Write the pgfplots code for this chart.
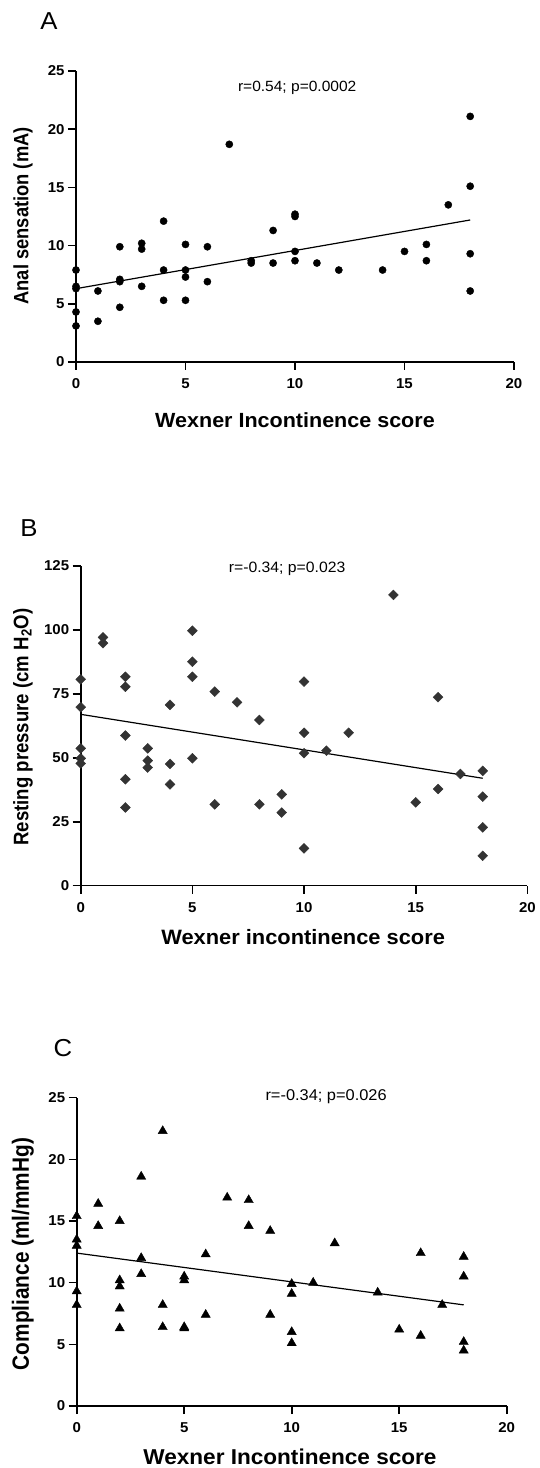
\documentclass[border=0pt]{standalone}
\usepackage{fontspec}
\setmainfont{Liberation Sans}[FakeStretch=1.05]
\newfontfamily\rotfont{Liberation Sans}[FakeStretch=0.885]
\usepackage{pgfplots}
\pgfplotsset{compat=1.18}
\definecolor{diamondgray}{HTML}{333333}

\pgfplotsset{
  panel/.style={
    scale only axis,
    axis lines*=left,
    axis line style={line width=1.6pt, black},
    tick align=outside,
    major tick length=8pt,
    tick style={line width=1.6pt, black},
    xmin=0, xmax=20, xtick={0,5,10,15,20},
    /pgf/number format/assume math mode=true,
    tick label style={font=\fontsize{14.3}{14.3}\selectfont\bfseries},
    xticklabel style={yshift=-5pt},
    clip=false,
  },
  fit/.style={line width=1.2pt, black, no marks},
}
\tikzset{
  panel letter/.style={anchor=base, font=\fontsize{24.5}{24.5}\selectfont},
  stat text/.style={anchor=base, font=\fontsize{14.8}{14.8}\selectfont},
}

\begin{document}
\begin{tikzpicture}[x=1pt, y=1pt]
\useasboundingbox (0,0) rectangle (539,1468);

% ---------- A: anal sensation ----------
\begin{axis}[panel,
  at={(76pt,1106pt)}, anchor=south west,
  width=438pt, height=291pt,
  ymin=0, ymax=25, ytick={0,5,10,15,20,25},
  xlabel={Wexner Incontinence score},
  xlabel style={at={(axis description cs:0.5,-0.199)}, anchor=center,
    font=\fontsize{20.5}{20.5}\selectfont\bfseries},
  ylabel={Anal sensation (mA)},
  ylabel style={at={(axis description cs:-0.121,0.502)}, anchor=center,
    font=\rotfont\fontsize{20.7}{20.7}\selectfont\bfseries},
]
\addplot[only marks, mark=*, mark size=3.6pt, black] coordinates {
  (0,7.9) (0,6.5) (0,6.3) (0,4.3) (0,3.1)
  (1,6.1) (1,3.5)
  (2,9.9) (2,7.1) (2,6.9) (2,4.7)
  (3,10.2) (3,9.7) (3,6.5)
  (4,12.1) (4,7.9) (4,5.3)
  (5,10.1) (5,7.9) (5,7.3) (5,5.3)
  (6,9.9) (6,6.9)
  (7,18.7)
  (8,8.7) (8,8.5)
  (9,11.3) (9,8.5)
  (10,12.7) (10,12.5) (10,9.5) (10,8.7)
  (11,8.5) (12,7.9) (14,7.9) (15,9.5)
  (16,10.1) (16,8.7) (17,13.5)
  (18,21.1) (18,15.1) (18,9.3) (18,6.1)
};
\addplot[fit] coordinates {(0,6.3) (18,12.2)};
\node[stat text] at (rel axis cs:0.505,0.931) {r=0.54; p=0.0002};
\node[panel letter] at (rel axis cs:-0.062,1.141) {A};
\end{axis}

% ---------- B: resting pressure ----------
\begin{axis}[panel,
  at={(80.7pt,582.3pt)}, anchor=south west,
  width=446.7pt, height=319.7pt,
  ymin=0, ymax=125, ytick={0,25,50,75,100,125},
  xlabel={Wexner incontinence score},
  xlabel style={at={(axis description cs:0.498,-0.16)}, anchor=center,
    font=\fontsize{20.8}{20.8}\selectfont\bfseries},
  ylabel={Resting pressure (cm H\textsubscript{2}O)},
  ylabel style={at={(axis description cs:-0.129,0.496)}, anchor=center,
    font=\rotfont\fontsize{21}{21}\selectfont\bfseries},
]
\addplot[only marks, mark=square*, mark size=3.5pt,
  mark options={rotate=45, fill=diamondgray, draw=diamondgray}] coordinates {
  (0,80.7) (0,69.8) (0,53.7) (0,49.8) (0,47.8)
  (1,97.1) (1,94.8)
  (2,81.7) (2,77.8) (2,58.7) (2,41.6) (2,30.6)
  (3,53.7) (3,48.9) (3,46.2)
  (4,70.7) (4,47.6) (4,39.6)
  (5,99.7) (5,87.6) (5,81.7) (5,49.8)
  (6,75.9) (6,31.8)
  (7,71.7)
  (8,64.8) (8,31.8)
  (9,35.7) (9,28.6)
  (10,79.8) (10,59.8) (10,51.8) (10,14.6)
  (11,52.8) (12,59.8) (14,113.7) (15,32.6)
  (16,73.7) (16,37.8) (17,43.7)
  (18,44.9) (18,34.8) (18,22.8) (18,11.7)
};
\addplot[fit] coordinates {(0,67.0) (18,42.0)};
\node[stat text, font=\fontsize{15}{15}\selectfont] at (rel axis cs:0.462,0.981) {r=-0.34; p=0.023};
\node[panel letter] at (rel axis cs:-0.116,1.091) {B};
\end{axis}

% ---------- C: compliance ----------
\begin{axis}[panel,
  at={(76.7pt,62pt)}, anchor=south west,
  width=430pt, height=308.3pt,
  ymin=0, ymax=25, ytick={0,5,10,15,20,25},
  xlabel={Wexner Incontinence score},
  xlabel style={at={(axis description cs:0.496,-0.165)}, anchor=center,
    font=\fontsize{21.5}{21.5}\selectfont\bfseries},
  ylabel={Compliance (ml/mmHg)},
  ylabel style={at={(axis description cs:-0.125,0.493)}, anchor=center,
    font=\rotfont\fontsize{23.5}{23.5}\selectfont\bfseries},
]
\addplot[only marks, mark=triangle*, mark size=5.3pt, black] coordinates {
  (0,15.4) (0,13.5) (0,13.0) (0,9.3) (0,8.2)
  (1,16.4) (1,14.6)
  (2,15.0) (2,10.2) (2,9.7) (2,7.9) (2,6.3)
  (3,18.6) (3,12.0) (3,10.7)
  (4,22.3) (4,8.2) (4,6.4)
  (5,10.5) (5,10.2) (5,6.4) (5,6.3)
  (6,12.3) (6,7.4)
  (7,16.9)
  (8,16.7) (8,14.6)
  (9,14.2) (9,7.4)
  (10,9.9) (10,9.1) (10,6.0) (10,5.1)
  (11,10.0) (12,13.2) (14,9.2) (15,6.2)
  (16,12.4) (16,5.7) (17,8.2)
  (18,12.1) (18,10.5) (18,5.2) (18,4.5)
};
\addplot[fit] coordinates {(0,12.4) (18,8.2)};
\node[stat text, font=\fontsize{15.6}{15.6}\selectfont] at (rel axis cs:0.58,0.99) {r=-0.34; p=0.026};
\node[panel letter] at (rel axis cs:-0.032,1.133) {C};
\end{axis}
\end{tikzpicture}
\end{document}
